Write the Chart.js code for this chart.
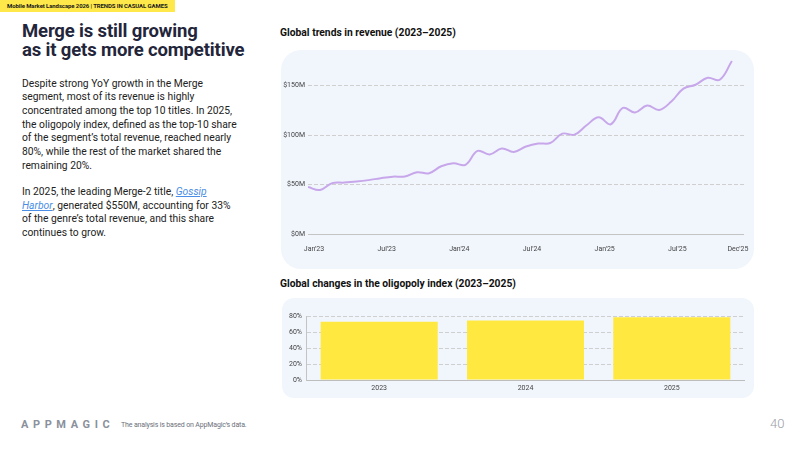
<!DOCTYPE html>
<html>
<head>
<meta charset="utf-8">
<script src="https://cdn.jsdelivr.net/npm/chart.js@4.4.1/dist/chart.umd.min.js"></script>
<style>
  html, body { margin:0; padding:0; background:#fff; }
  body { width:800px; height:450px; position:relative; overflow:hidden; font-family: Roboto, "Noto Sans", sans-serif; }
  .abs { position:absolute; white-space:nowrap; }
  #banner { left:0; top:0; width:175px; height:12px; background:#ffe94a; }
  #bannerText { left:7px; top:0; font-size:6px; line-height:12px; font-weight:700; color:#1a1a1a; letter-spacing:-0.1px; }
  #title { left:22px; top:21.5px; font-size:18.5px; line-height:19px; font-weight:700; color:#23253a; letter-spacing:-0.15px; }
  #body { left:22px; top:76.5px; font-size:10.3px; line-height:13.7px; color:#222; letter-spacing:0px; }
  #body p { margin:0 0 12.5px 0; }
  #body a { color:#4a8ee6; font-style:italic; text-decoration:underline; }
  .ctitle { font-size:10.3px; line-height:12px; font-weight:700; color:#111; letter-spacing:0px; left:280px; }
  .panel { position:absolute; background:#f1f6fd; }
  #footLogo { left:21px; top:418px; font-size:11px; line-height:14px; font-weight:700; color:#8b919c; letter-spacing:4.6px; }
  #footText { left:121px; top:419px; font-size:7px; line-height:12px; color:#6b707a; letter-spacing:-0.15px; }
  #pageNo { left:770px; top:416px; font-size:13px; line-height:16px; color:#9a9ea6; font-weight:300; }
  canvas { position:absolute; }
</style>
</head>
<body>
<div id="banner" class="abs"></div>
<div id="bannerText" class="abs">Mobile Market Landscape 2026 | TRENDS IN CASUAL GAMES</div>
<div id="title" class="abs">Merge is still growing<br>as it gets more competitive</div>
<div id="body" class="abs">
<p>Despite strong YoY growth in the Merge<br>segment, most of its revenue is highly<br>concentrated among the top 10 titles. In 2025,<br>the oligopoly index, defined as the top-10 share<br>of the segment’s total revenue, reached nearly<br>80%, while the rest of the market shared the<br>remaining 20%.</p>
<p>In 2025, the leading Merge-2 title, <a>Gossip<br>Harbor</a>, generated $550M, accounting for 33%<br>of the genre’s total revenue, and this share<br>continues to grow.</p>
</div>
<div class="abs ctitle" style="top:27px;">Global trends in revenue (2023–2025)</div>
<div class="abs ctitle" style="top:278px;">Global changes in the oligopoly index (2023–2025)</div>
<div class="panel" style="left:281px; top:50px; width:473px; height:219px; border-radius:20px;"></div>
<div class="panel" style="left:282px; top:298px; width:472px; height:100px; border-radius:12px;"></div>
<canvas id="lineChart" width="474" height="219" style="left:280px; top:50px; width:474px; height:219px;"></canvas>
<canvas id="barChart" width="472" height="100" style="left:282px; top:298px; width:472px; height:100px;"></canvas>
<div id="footLogo" class="abs">APPMAGIC</div>
<div id="footText" class="abs">The analysis is based on AppMagic’s data.</div>
<div id="pageNo" class="abs">40</div>
<script>
// ---- Data ----
const months = ["Jan'23","Feb'23","Mar'23","Apr'23","May'23","Jun'23","Jul'23","Aug'23","Sep'23","Oct'23","Nov'23","Dec'23",
                "Jan'24","Feb'24","Mar'24","Apr'24","May'24","Jun'24","Jul'24","Aug'24","Sep'24","Oct'24","Nov'24","Dec'24",
                "Jan'25","Feb'25","Mar'25","Apr'25","May'25","Jun'25","Jul'25","Aug'25","Sep'25","Oct'25","Nov'25","Dec'25"];
const revenueM = [47.5, 44.5, 51.5, 52, 53, 54.5, 56.5, 58, 58.2, 62.5, 61.5, 68.5,
                  71.5, 70, 84, 80.5, 86.5, 83, 88.5, 91.5, 92, 101.5, 100.5, 110,
                  118, 111, 127.5, 123, 130, 125.5, 134, 147, 151, 158, 156, 175];
const monthTickLabels = ["Jan'23","Jul'23","Jan'24","Jul'24","Jan'25","Jul'25","Dec'25"];
const years = ["2023","2024","2025"];
const oligopolyIndex = [73.5, 75, 79];

const tickFont = { family: "Roboto", size: 7 };
const tickColor = "#444";
const gridDash = (ctx) => (ctx.tick && ctx.tick.value === 0) ? [] : [4, 2];

new Chart(document.getElementById('lineChart'), {
  type: 'line',
  data: {
    datasets: [{
      data: revenueM.map((v, i) => ({ x: i, y: v })),
      borderColor: '#c7a7ea',
      borderWidth: 2,
      pointRadius: 0,
      tension: 0.4,
      fill: false
    }]
  },
  options: {
    responsive: false, animation: false, devicePixelRatio: 1,
    layout: { padding: { left: 0, right: 10, top: 10, bottom: 0 } },
    plugins: { legend: { display: false }, tooltip: { enabled: false } },
    scales: {
      x: {
        type: 'linear', min: 0, max: 36,
        afterBuildTicks: (s) => { s.ticks = monthTickLabels.map(l => ({ value: months.indexOf(l) })); },
        afterFit: (s) => { s.height = 35; },
        grid: { display: false, drawTicks: false },
        border: { display: false },
        ticks: { font: tickFont, color: tickColor, padding: 11, labelOffset: 6, maxRotation: 0, autoSkip: false,
                 callback: (v) => months[v] }
      },
      y: {
        min: 0, max: 176,
        afterFit: (s) => { s.width = 28; },
        grid: { color: (ctx) => (ctx.tick && ctx.tick.value === 0) ? '#c4c4c4' : '#cfcfcf', drawTicks: false, lineWidth: 1 },
        border: { display: false, dash: gridDash },
        ticks: { stepSize: 50, includeBounds: false, font: tickFont, color: tickColor, padding: 3,
                 callback: (v) => '$' + v + 'M' }
      }
    }
  }
});

new Chart(document.getElementById('barChart'), {
  type: 'bar',
  data: {
    labels: years,
    datasets: [{
      data: oligopolyIndex,
      backgroundColor: '#ffe940',
      borderWidth: 0,
      categoryPercentage: 0.8,
      barPercentage: 1.0
    }]
  },
  options: {
    responsive: false, animation: false, devicePixelRatio: 1,
    layout: { padding: { left: 0, right: 9, top: 18.5, bottom: 0 } },
    plugins: { legend: { display: false }, tooltip: { enabled: false } },
    scales: {
      x: {
        afterFit: (s) => { s.height = 18; },
        grid: { display: false, drawTicks: false },
        border: { display: false },
        ticks: { font: tickFont, color: tickColor, padding: 4 }
      },
      y: {
        min: 0, max: 80,
        afterFit: (s) => { s.width = 24; },
        grid: { color: (ctx) => (ctx.tick && ctx.tick.value === 0) ? '#bdbdbd' : '#cfcfcf', drawTicks: false, lineWidth: 1 },
        border: { display: true, color: '#c4c4c4', dash: gridDash },
        ticks: { stepSize: 20, font: tickFont, color: tickColor, padding: 4,
                 callback: (v) => v + '%' }
      }
    }
  }
});
</script>
</body>
</html>
